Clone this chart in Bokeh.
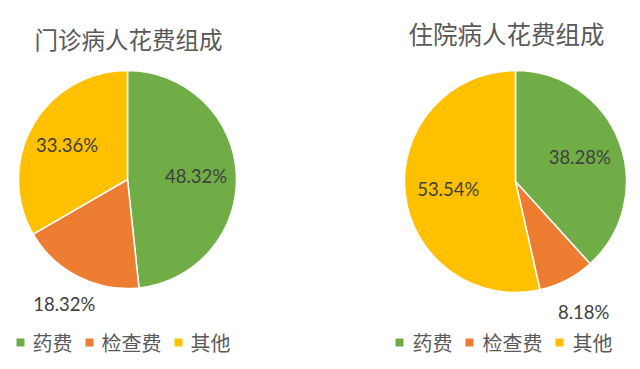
import math
from bokeh.plotting import figure
from bokeh.models import Range1d, ColumnDataSource
from bokeh.core.properties import value
from bokeh.embed import file_html
from bokeh.resources import INLINE

# ---- data ----
categories = ["药费", "检查费", "其他"]
outpatient = [48.32, 18.32, 33.36]
inpatient = [38.28, 8.18, 53.54]
titles = ["门诊病人花费组成", "住院病人花费组成"]
colors = ["#70AD47", "#ED7D31", "#FFC000"]

W, H = 640, 369
p = figure(width=W, height=H, x_range=Range1d(0, W), y_range=Range1d(0, H),
           output_backend="svg", toolbar_location=None, min_border=0)
p.axis.visible = False
p.grid.visible = False
p.outline_line_color = None
p.background_fill_color = "white"
p.border_fill_color = "white"


def sx(X):
    return X


def sy(Y):
    return H - Y


CJK = value("Noto Sans CJK SC")
NUM = value("Lato")


def pie(vals, cx, cy, r, factors, title, tx, ty, tsize, leg_x, leg_y, standoff, gap):
    total = sum(vals)
    cum = 0.0
    starts, ends, mids = [], [], []
    for v in vals:
        a0 = math.pi / 2 - 2 * math.pi * cum / total
        cum += v
        a1 = math.pi / 2 - 2 * math.pi * cum / total
        starts.append(a1)
        ends.append(a0)
        mids.append((a0 + a1) / 2)
    src = ColumnDataSource(dict(start=starts, end=ends, color=colors,
                                cat=categories, val=vals))
    p.wedge(x=cx, y=cy, radius=r, start_angle="start", end_angle="end",
            fill_color="color", line_color="white", line_width=1.5, source=src)
    lx = [cx + f * r * math.cos(m) for f, m in zip(factors, mids)]
    ly = [cy + f * r * math.sin(m) for f, m in zip(factors, mids)]
    p.text(x=lx, y=ly, text=[f"{v:.2f}%" for v in vals],
           text_font=NUM, text_font_size="18.5px", text_color="#404040",
           text_align="center", text_baseline="middle")
    p.text(x=[tx], y=[ty], text=[title], text_font=CJK, text_font_size=tsize,
           text_color="#595959", text_align="center", text_baseline="middle")
    # legend
    x = leg_x
    sqx, txx = [], []
    for c in categories:
        sqx.append(x + 4)
        txx.append(x + standoff)
        x = x + standoff + 20 * len(c) + gap
    p.scatter(x=sqx, y=[leg_y] * 3, marker="square", size=8, fill_color=colors,
              line_color=None)
    p.text(x=txx, y=[leg_y] * 3, text=categories, text_font=CJK,
           text_font_size="20px", text_color="#595959", text_align="left",
           text_baseline="middle")


pie(outpatient, sx(127), sy(179), 109, [0.63, 1.28, 0.64], titles[0],
    sx(128), sy(38), "23.5px", sx(16), sy(342), 16, 13)
pie(inpatient, sx(515), sy(181), 111, [0.62, 1.33, 0.61], titles[1],
    sx(506), sy(33), "24.5px", sx(395), sy(342), 17, 13)

open("out.html", "w").write(file_html(p, INLINE))
